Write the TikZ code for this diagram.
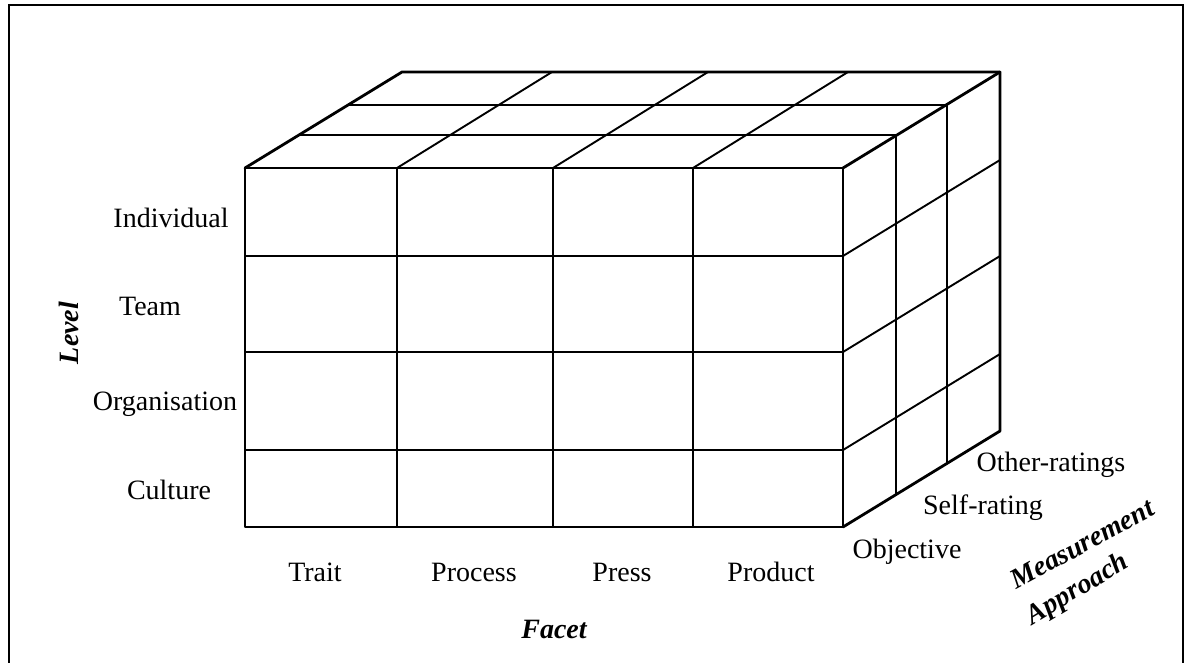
\documentclass[tikz,border=0pt]{standalone}
\usepackage{fontspec}
\setmainfont{Liberation Serif}
\begin{document}
\begin{tikzpicture}[x=1pt,y=-1pt,
  lab/.style={font=\fontsize{28}{32}\selectfont, inner sep=0pt},
  axislab/.style={font=\fontsize{28}{32}\selectfont\bfseries\itshape, inner sep=0pt},
  gridline/.style={line width=1.9pt},
  edge/.style={line width=2.8pt, line join=round, line cap=round}]
\useasboundingbox (0,0) rectangle (1190,663);
\draw[line width=2pt] (9,690) -- (9,5) -- (1183,5) -- (1183,690);
% front face grid
\foreach \x in {397,553,693} \draw[gridline] (\x,168) -- (\x,527);
\foreach \y in {256,352,450} \draw[gridline] (245,\y) -- (843,\y);
% top face grid
\foreach \x in {397,553,693} \draw[gridline] (\x,168) -- ++(155,-96);
\draw[gridline] (298.4,135.4) -- (896.4,135.4);
\draw[gridline] (348.6,104.6) -- (946.6,104.6);
% right face grid
\foreach \y in {256,352,450} \draw[gridline] (843,\y) -- ++(157,-96);
\draw[gridline] (896.4,135.4) -- (896.4,494.4);
\draw[gridline] (946.6,104.6) -- (946.6,463.6);
% outline
\draw[edge] (245,168) rectangle (843,527);
\draw[edge] (245,168) -- (402,72) -- (1000,72) -- (1000,431) -- (843,527);
\draw[edge] (843,168) -- (1000,72);
% level labels
\node[lab] (ind) at (171,218) {Individual};
\node[lab] (team) at (150,306) {Team};
\node[lab] (org) at (165,404) {Organisation};
\node[lab] (cul) at (169,490) {Culture};
\node[axislab, rotate=90] (level) at (69,333) {Level};
% facet labels
\node[lab] (trait) at (315,572) {Trait};
\node[lab] (proc) at (474,572) {Process};
\node[lab] (press) at (622,572) {Press};
\node[lab] (prod) at (771,572) {Product};
\node[axislab] (facet) at (554,629) {Facet};
% measurement labels
\node[lab] (obj) at (907,552) {Objective};
\node[lab] (self) at (983,508) {Self-rating};
\node[lab] (other) at (1051,465) {Other-ratings};
\node[axislab, rotate=28.5] (meas) at (1082,544) {Measurement};
\node[axislab, rotate=31] (appr) at (1078,590) {Approach};
\end{tikzpicture}
\end{document}
